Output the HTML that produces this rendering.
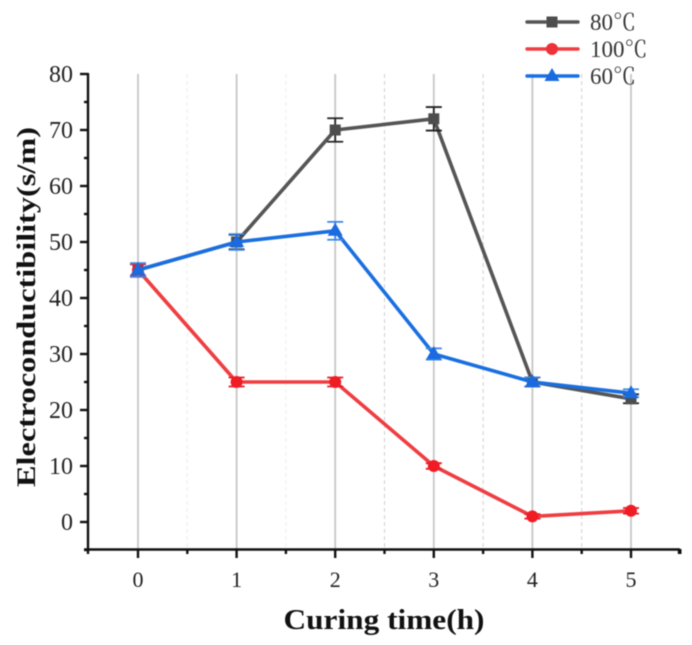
<!DOCTYPE html>
<html>
<head>
<meta charset="utf-8">
<style>
html,body{margin:0;padding:0;background:#fff;width:692px;height:645px;overflow:hidden}
svg{display:block;filter:blur(0.4px)}
text{font-family:"Liberation Serif","Noto Serif CJK SC",serif}
</style>
</head>
<body>
<svg id="chart" width="692" height="645" viewBox="0 0 692 645" xmlns="http://www.w3.org/2000/svg"></svg>
<script>
const xCategories = [0, 1, 2, 3, 4, 5];
const xTickLabels = ['0', '1', '2', '3', '4', '5'];
const yTickValues = [0, 10, 20, 30, 40, 50, 60, 70, 80];
const values80 = [45, 50, 70, 72, 25, 22];
const errors80 = [1.2, 1.3, 2.1, 2.1, 0.8, 0.8];
const values100 = [45, 25, 25, 10, 1, 2];
const errors100 = [1.0, 0.8, 0.8, 0.5, 0.4, 0.5];
const values60 = [45, 50, 52, 30, 25, 23];
const errors60 = [1.2, 1.4, 1.6, 1.0, 0.8, 0.7];
const seriesNames = ['80', '100', '60'];

const NS = 'http://www.w3.org/2000/svg';
const svg = document.getElementById('chart');
const xPos = v => 138 + v * 98.6;
const yPos = v => 522 - v * 5.6;

function make(tag, attrs, parent) {
  const el = document.createElementNS(NS, tag);
  for (const k in attrs) el.setAttribute(k, attrs[k]);
  (parent || svg).appendChild(el);
  return el;
}

// grid
const grid = make('g', {});


xCategories.forEach(v => {
  const l = make('line', {x1: xPos(v), x2: xPos(v), y1: 74, y2: 549, stroke: '#c6c6c6', 'stroke-width': 1.8}, grid);
  
  
  if (v < 5) {
    const m = make('line', {x1: xPos(v + 0.5), x2: xPos(v + 0.5), y1: 74, y2: 549, stroke: v < 2 ? '#ececec' : '#d0d0d0', 'stroke-width': 1, 'stroke-dasharray': '4 3'}, grid);
    
    
  }
});

// axes
const axes = make('g', {stroke: '#111', 'stroke-width': 2.4, fill: 'none'});


const yAxis = make('line', {x1: 88, x2: 88, y1: 73, y2: 551}, axes);


const xAxis = make('line', {x1: 84, x2: 680, y1: 549.5, y2: 549.5}, axes);



yTickValues.forEach(v => {
  const t = make('line', {x1: 80, x2: 88, y1: yPos(v), y2: yPos(v)}, axes);
  
  
  if (v < 80) {
    const m = make('line', {x1: 84, x2: 88, y1: yPos(v + 5), y2: yPos(v + 5)}, axes);
    
    
  }
  const lab = make('text', {x: 73, y: yPos(v) + 8, 'text-anchor': 'end', 'font-size': 24, fill: '#222'});
  lab.textContent = String(v);
  
  
});
const minusTick = make('line', {x1: 84, x2: 88, y1: yPos(-5), y2: yPos(-5)}, axes);



xCategories.forEach((v, i) => {
  const t = make('line', {x1: xPos(v), x2: xPos(v), y1: 549, y2: 558}, axes);
  
  
  const m = make('line', {x1: xPos(v + 0.5), x2: xPos(v + 0.5), y1: 549, y2: 554}, axes);
  
  
  const lab = make('text', {x: xPos(v), y: 587, 'text-anchor': 'middle', 'font-size': 22, fill: '#222'});
  lab.textContent = xTickLabels[i];
  
  
});
const startTick = make('line', {x1: 88, x2: 88, y1: 549, y2: 554}, axes);


const endTick = make('line', {x1: 679, x2: 679, y1: 549, y2: 554}, axes);



function marker(kind, x, y, color, parent) {
  if (kind === 'square') return make('rect', {x: x - 5.5, y: y - 5.5, width: 11, height: 11, fill: color}, parent);
  if (kind === 'circle') return make('circle', {cx: x, cy: y, r: 6, fill: color}, parent);
  return make('polygon', {points: [x, y - 8, x + 7.5, y + 5, x - 7.5, y + 5].join(','), fill: color}, parent);
}

function drawSeries(name, values, errors, lineColor, markerColor, errColor, kind) {
  const g = make('g', {});
  
  
  const pts = values.map((v, i) => xPos(xCategories[i]) + ',' + yPos(v)).join(' ');
  const line = make('polyline', {points: pts, fill: 'none', stroke: lineColor, 'stroke-width': 3.6, 'stroke-linejoin': 'round'}, g);
  
  
  values.forEach((v, i) => {
    const x = xPos(xCategories[i]);
    const top = yPos(v + errors[i]);
    const bot = yPos(v - errors[i]);
    const eg = make('path', {d: `M${x - 8} ${top}H${x + 8}M${x} ${top}V${bot}M${x - 8} ${bot}H${x + 8}`, fill: 'none', stroke: errColor, 'stroke-width': 1.8}, g);
    
    
    const m = marker(kind, x, yPos(v), markerColor, g);
    
    
  });
}

drawSeries('80c', values80, errors80, '#555555', '#4d4d4d', '#222222', 'square');
drawSeries('100c', values100, errors100, '#ee3e42', '#f01c24', '#e0202a', 'circle');
drawSeries('60c', values60, errors60, '#1a6fe0', '#1a6ae0', '#3a86e8', 'triangle');

// legend
const legendColors = ['#555555', '#ee3e42', '#1a6fe0'];
const legendMarkers = ['#4d4d4d', '#ee3038', '#1a6ae0'];
const legendKinds = ['square', 'circle', 'triangle'];
const legendRows = [22, 49, 76];
const legend = make('g', {});


seriesNames.forEach((n, i) => {
  const y = legendRows[i];
  const e = make('g', {}, legend);
  
  
  make('line', {x1: 527, x2: 578, y1: y, y2: y, stroke: legendColors[i], 'stroke-width': 3.4, 'stroke-linecap': 'round'}, e);
  marker(legendKinds[i], 552, y, legendMarkers[i], e);
  const t = make('text', {x: 590, y: y + 8, 'font-size': 23, fill: '#333'}, e);
  t.textContent = n;
  const unit = make('tspan', {style: 'font-family:"Noto Serif CJK SC","Noto Sans CJK SC",serif'}, t);
  unit.textContent = '℃';
});

// titles
const yTitle = make('text', {transform: 'translate(35,307) rotate(-90)', 'text-anchor': 'middle', 'font-size': 26, 'font-weight': 'bold', fill: '#111', textLength: 360, lengthAdjust: 'spacingAndGlyphs'});
yTitle.textContent = 'Electroconductibility(s/m)';


const xTitle = make('text', {x: 384, y: 629, 'text-anchor': 'middle', 'font-size': 29, 'font-weight': 'bold', fill: '#111', textLength: 201, lengthAdjust: 'spacingAndGlyphs'});
xTitle.textContent = 'Curing time(h)';


</script>
</body>
</html>
